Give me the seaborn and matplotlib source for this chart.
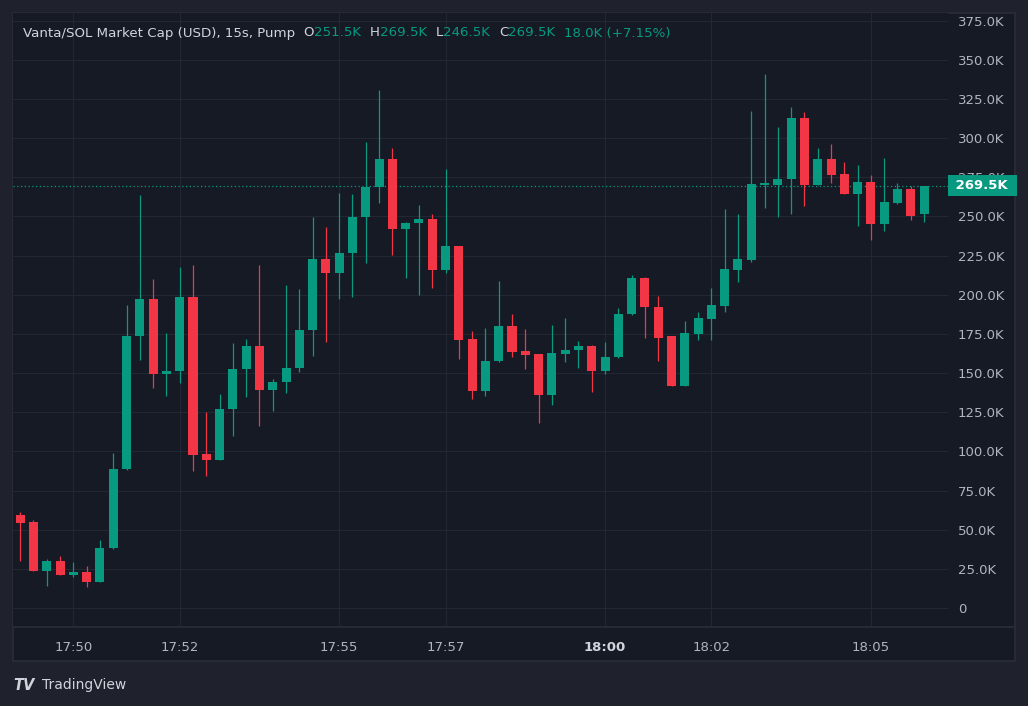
import numpy as np
import pandas as pd
import matplotlib
matplotlib.use('Agg')
import matplotlib.pyplot as plt
import matplotlib.transforms as mtransforms
from matplotlib.patches import Rectangle
from matplotlib.lines import Line2D
import seaborn as sns

# 15s candles, market cap in K USD
times = pd.date_range('2024-01-01 17:49:00', periods=69, freq='15s')
opens = [59.4, 54.7, 23.9, 30.0, 21.3, 23.0, 16.8, 38.3, 88.8, 173.8,
         197.4, 149.7, 151.4, 198.7, 98.4, 94.6, 127.1, 152.7, 167.6, 139.3,
         144.4, 153.5, 177.2, 223.0, 213.6, 226.8, 249.8, 269.0, 286.8, 242.3,
         246.0, 248.5, 215.5, 231.4, 171.9, 138.8, 157.8, 180.2, 164.2, 162.3,
         136.3, 162.5, 164.8, 167.4, 151.6, 160.4, 187.8, 210.8, 192.3, 173.4,
         142.0, 175.0, 184.8, 193.1, 215.9, 222.3, 270.4, 270.2, 273.6, 313.0,
         270.2, 286.8, 277.3, 264.5, 272.2, 245.3, 258.7, 267.7, 251.5]
highs = [61.1, 56.0, 31.3, 33.4, 29.4, 27.0, 43.4, 99.2, 193.6, 264.0,
         209.8, 175.7, 217.9, 218.9, 125.4, 136.9, 168.9, 172.0, 219.1, 146.3,
         206.5, 203.8, 249.4, 243.0, 264.9, 264.5, 297.3, 330.5, 293.9, 246.6,
         257.5, 251.3, 280.3, 231.4, 177.0, 178.9, 208.9, 188.0, 178.2, 162.3,
         181.0, 185.3, 170.6, 168.0, 170.1, 191.7, 212.7, 211.5, 199.3, 173.6,
         183.2, 189.1, 204.2, 254.8, 251.8, 317.5, 340.7, 307.3, 320.1, 316.9,
         293.9, 296.4, 284.9, 283.0, 276.6, 287.1, 271.5, 269.2, 269.5]
lows = [29.8, 23.7, 14.3, 21.0, 19.6, 13.4, 16.6, 37.7, 88.0, 158.4,
        140.3, 135.4, 143.9, 87.7, 84.3, 94.6, 109.9, 134.6, 116.3, 126.0,
        137.5, 151.0, 161.0, 169.9, 197.6, 198.7, 220.0, 258.3, 225.1, 210.4,
        200.0, 204.4, 213.6, 159.1, 133.3, 135.6, 157.4, 160.4, 152.9, 118.0,
        129.7, 157.2, 153.3, 138.2, 149.4, 159.9, 187.4, 172.7, 158.0, 142.0,
        142.0, 171.2, 171.2, 189.3, 208.1, 221.2, 255.7, 249.4, 251.5, 256.4,
        270.0, 271.5, 264.5, 243.6, 235.1, 240.8, 258.1, 247.9, 246.5]
closes = [54.5, 23.9, 30.0, 21.3, 23.0, 16.8, 38.3, 88.8, 173.8, 197.4,
          149.7, 151.4, 198.7, 97.7, 94.6, 127.1, 152.7, 167.6, 139.3, 144.6,
          153.5, 177.2, 223.0, 213.6, 226.8, 249.8, 269.0, 286.8, 242.3, 246.0,
          248.5, 215.5, 231.4, 171.4, 138.8, 157.8, 180.2, 163.7, 161.8, 136.3,
          162.9, 164.8, 167.4, 151.6, 160.4, 187.8, 210.8, 191.9, 172.7, 142.0,
          175.7, 185.3, 193.6, 216.6, 223.0, 270.9, 271.0, 274.1, 313.0, 270.2,
          286.8, 276.6, 264.5, 272.2, 245.3, 259.4, 267.7, 250.4, 269.5]
pct_change = 7.15
price_ticks = list(range(0, 376, 25))
time_labels = ['17:50', '17:52', '17:55', '17:57', '18:00', '18:02', '18:05']

UP = '#089981'
DOWN = '#f23645'
PANE = '#161a25'
OUTER = '#1f222d'
BORDER = '#2a2e39'
GRID = '#232733'
TXT = '#b2b5be'
TITLE = '#d1d4dc'

sns.set_theme(style='dark', rc={'axes.facecolor': PANE, 'figure.facecolor': OUTER})
plt.rcParams['font.family'] = ['DejaVu Sans']

W, H = 1028, 706
fig = plt.figure(figsize=(W / 100, H / 100), dpi=100)
fig.add_artist(Rectangle((13 / W, 1 - 661 / H), (1015 - 13) / W, (661 - 13) / H,
                         transform=fig.transFigure, fc=PANE, ec=BORDER, lw=1.2, zorder=0))
ax = fig.add_axes([13 / W, 1 - 627.3 / H, (948 - 13) / W, (627.3 - 13) / H])
ax.set_facecolor(PANE)
fig.add_artist(Line2D([13 / W, 1015 / W], [1 - 627.3 / H] * 2, transform=fig.transFigure,
                      color=BORDER, lw=1.2))

df = pd.DataFrame({'time': times, 'open': opens, 'high': highs, 'low': lows, 'close': closes})
df['i'] = np.arange(len(df))
df['up'] = df['close'] >= df['open']
df['color'] = np.where(df['up'], UP, DOWN)
body_lo = df[['open', 'close']].min(axis=1)
body_h = (df['close'] - df['open']).abs().clip(lower=0.7)

ax.vlines(df['i'], df['low'], df['high'], colors=df['color'], lw=0.9, zorder=3)
ax.bar(df['i'], body_h, bottom=body_lo, width=0.68, color=df['color'], lw=0, zorder=4)

# last price line + label
last = closes[-1]
ax.axhline(last, color=UP, ls=(0, (1, 2)), lw=0.9, zorder=2)
trans = mtransforms.blended_transform_factory(ax.transAxes, ax.transData)
ax.annotate(f' {last:.1f}K ', xy=(1, last), xycoords=trans, xytext=(2.5, 0),
            textcoords='offset points', ha='left', va='center', color='white',
            fontsize=9.5, fontweight='bold', annotation_clip=False, zorder=10,
            bbox=dict(boxstyle='square,pad=0.3', fc=UP, ec='none'))

ax.set_xlim(-0.54, 69.8)
ax.set_ylim(-12.3, 379.9)

tick_pos = [i for i, t in enumerate(times) if t.second == 0 and t.strftime('%H:%M') in time_labels]
ax.set_xticks(tick_pos)
ax.set_xticklabels([times[i].strftime('%H:%M') for i in tick_pos])
ax.yaxis.tick_right()
ax.set_yticks(price_ticks)
ax.set_yticklabels(['0' if v == 0 else f'{v:.1f}K' for v in price_ticks])
ax.tick_params(axis='both', length=0, colors=TXT, labelsize=9.5)
ax.tick_params(axis='y', pad=7)
ax.tick_params(axis='x', pad=10)
for lab in ax.get_xticklabels():
    if lab.get_text() == '18:00':
        lab.set_fontweight('bold')
        lab.set_color(TITLE)
ax.grid(True, color=GRID, lw=0.8)
for s in ax.spines.values():
    s.set_visible(False)

# header line
fig.canvas.draw()
r = fig.canvas.get_renderer()
parts = [('Vanta/SOL Market Cap (USD), 15s, Pump', TITLE, 8),
         ('O', TITLE, 0), (f'{opens[-1]:.1f}K', UP, 9),
         ('H', TITLE, 0), (f'{highs[-1]:.1f}K', UP, 9),
         ('L', TITLE, 0), (f'{lows[-1]:.1f}K', UP, 9),
         ('C', TITLE, 0), (f'{closes[-1]:.1f}K', UP, 9),
         (f'{closes[-1] - opens[-1]:.1f}K (+{pct_change:.2f}%)', UP, 0)]
x = 23
for txt, col, gap in parts:
    t = fig.text(x / W, 1 - 33 / H, txt, color=col, fontsize=9.6, ha='left', va='center')
    bb = t.get_window_extent(r)
    x = bb.x1 + gap

fig.text(13 / W, 1 - 685 / H, 'TV', color=TITLE, fontsize=10.5, fontweight='black',
         ha='left', va='center', fontstyle='italic')
fig.text(42 / W, 1 - 685 / H, 'TradingView', color=TITLE, fontsize=10, ha='left', va='center')

fig.savefig('out.png', dpi=100, facecolor=OUTER)
